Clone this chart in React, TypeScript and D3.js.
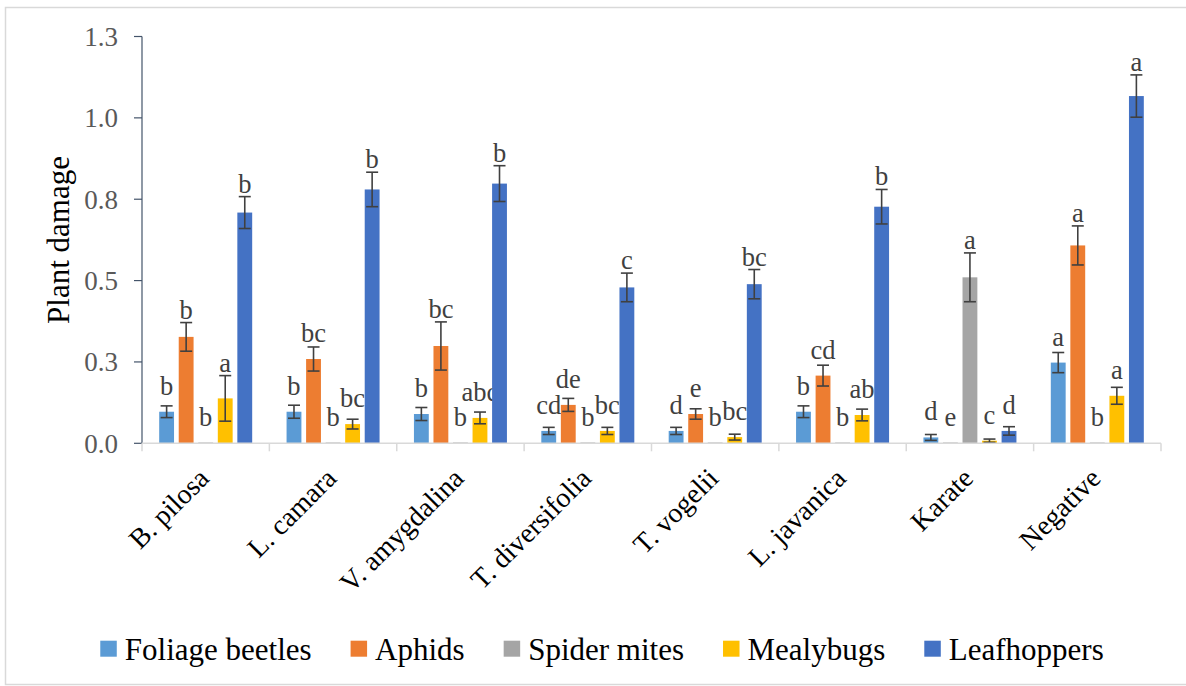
import * as d3 from 'd3';
import * as React from 'react';
import { Component } from 'react';

// categories and series
const categories = ['B. pilosa', 'L. camara', 'V. amygdalina', 'T. diversifolia', 'T. vogelii', 'L. javanica', 'Karate', 'Negative'];
const seriesNames = ['Foliage beetles', 'Aphids', 'Spider mites', 'Mealybugs', 'Leafhoppers'];
const seriesColors = ['#5b9bd5', '#ed7d31', '#a5a5a5', '#ffc000', '#4472c4'];

// mean plant damage
const foliageBeetles = [0.097, 0.097, 0.090, 0.038, 0.038, 0.097, 0.018, 0.248];
const aphids = [0.327, 0.259, 0.299, 0.118, 0.090, 0.208, 0, 0.608];
const spiderMites = [0, 0, 0, 0, 0, 0, 0.510, 0];
const mealybugs = [0.138, 0.059, 0.078, 0.038, 0.019, 0.087, 0.008, 0.146];
const leafhoppers = [0.709, 0.780, 0.798, 0.479, 0.489, 0.727, 0.038, 1.067];

// standard errors
const foliageErr = [0.018, 0.020, 0.020, 0.011, 0.011, 0.018, 0.009, 0.031];
const aphidsErr = [0.044, 0.037, 0.074, 0.020, 0.016, 0.032, 0, 0.060];
const spiderErr = [0, 0, 0, 0, 0, 0, 0.075, 0];
const mealyErr = [0.070, 0.015, 0.018, 0.011, 0.009, 0.018, 0.005, 0.026];
const leafErr = [0.049, 0.053, 0.055, 0.044, 0.045, 0.053, 0.013, 0.065];

// significance letters
const foliageLetters = ['b', 'b', 'b', 'cd', 'd', 'b', 'd', 'a'];
const aphidsLetters = ['b', 'bc', 'bc', 'de', 'e', 'cd', 'e', 'a'];
const spiderLetters = ['b', 'b', 'b', 'b', 'b', 'b', 'a', 'b'];
const mealyLetters = ['a', 'bc', 'abc', 'bc', 'bc', 'ab', 'c', 'a'];
const leafLetters = ['b', 'b', 'b', 'c', 'bc', 'b', 'd', 'a'];

const yTicks = [0, 0.25, 0.5, 0.75, 1.0, 1.25];
const yTickLabels = ['0.0', '0.3', '0.5', '0.8', '1.0', '1.3'];

const seriesValues = [foliageBeetles, aphids, spiderMites, mealybugs, leafhoppers];
const seriesErrors = [foliageErr, aphidsErr, spiderErr, mealyErr, leafErr];
const seriesLetters = [foliageLetters, aphidsLetters, spiderLetters, mealyLetters, leafLetters];

const FONT = 'Liberation Serif, DejaVu Serif, serif';

class App extends Component {
  private chartElement: any;

  componentDidMount() {
    this.renderChart();
  }

  renderChart() {
    const width = 1186, height = 686;
    const left = 142, right = 1161, top = 36.5, bottom = 443.3;

    d3.select(this.chartElement).selectAll('*').remove();

    const svg = d3.select(this.chartElement)
      .append('svg')
      .attr('width', width)
      .attr('height', height)
      .style('display', 'block');

    const addText = (sel: any) => sel.append('text').attr('font-family', FONT);

    svg.append('rect')
      .attr('x', 5.5).attr('y', 7.5)
      .attr('width', width + 10).attr('height', 677)
      .attr('fill', 'white')
      .attr('stroke', '#d9d9d9')
      .attr('stroke-width', 1.5);

    const y = d3.scaleLinear().domain([0, 1.25]).range([bottom, top]);
    const x0 = d3.scaleBand().domain(categories).range([left, right]).padding(0);
    const groupWidth = 93;
    const x1 = d3.scaleBand().domain(seriesNames)
      .range([0, groupWidth]).paddingInner(0.24).paddingOuter(0);

    // y axis
    svg.append('line')
      .attr('x1', left).attr('x2', left)
      .attr('y1', top).attr('y2', bottom)
      .attr('stroke', '#44546a').attr('stroke-width', 1.2);

    yTicks.forEach((t, i) => {
      svg.append('line')
        .attr('x1', left - 8).attr('x2', left)
        .attr('y1', y(t)).attr('y2', y(t))
        .attr('stroke', '#44546a').attr('stroke-width', 1.2);
      addText(svg)
        .attr('x', 118).attr('y', y(t))
        .attr('dy', '0.35em')
        .attr('text-anchor', 'end')
        .attr('font-size', 27)
        .attr('fill', '#595959')
        .text(yTickLabels[i]);
    });

    addText(svg)
      .attr('transform', 'translate(58,240) rotate(-90)')
      .attr('text-anchor', 'middle')
      .attr('dy', '0.35em')
      .attr('font-size', 31)
      .attr('fill', 'black')
      .text('Plant damage');

    // bars
    categories.forEach((cat, ci) => {
      const gx = (x0(cat) as number) + (x0.bandwidth() - groupWidth) / 2;
      seriesNames.forEach((name, si) => {
        const v = seriesValues[si][ci];
        const e = seriesErrors[si][ci];
        const bx = gx + (x1(name) as number);
        const bw = x1.bandwidth();
        const cx = bx + bw / 2;

        svg.append('rect')
          .attr('x', bx).attr('y', y(v) - (v === 0 ? 1 : 0))
          .attr('width', bw).attr('height', Math.max(1, y(0) - y(v)))
          .attr('fill', v === 0 ? '#bfbfbf' : seriesColors[si]);

        if (e > 0) {
          const g = svg.append('g').attr('stroke', '#404040').attr('stroke-width', 1.6);
          g.append('line').attr('x1', cx).attr('x2', cx).attr('y1', y(v + e)).attr('y2', y(Math.max(0, v - e)));
          g.append('line').attr('x1', cx - 6).attr('x2', cx + 6).attr('y1', y(v + e)).attr('y2', y(v + e));
          g.append('line').attr('x1', cx - 6).attr('x2', cx + 6).attr('y1', y(Math.max(0, v - e))).attr('y2', y(Math.max(0, v - e)));
        }

        const baseY = Math.min(y(v) - 17, y(v + e) - 4);
        addText(svg)
          .attr('x', cx).attr('y', baseY)
          .attr('text-anchor', 'middle')
          .attr('font-size', 26.5)
          .attr('fill', '#404040')
          .text(seriesLetters[si][ci]);
      });
    });

    // x axis
    svg.append('line')
      .attr('x1', left).attr('x2', right)
      .attr('y1', bottom).attr('y2', bottom)
      .attr('stroke', '#d9d9d9').attr('stroke-width', 1.5);

    categories.forEach((cat) => {
      svg.append('line')
        .attr('x1', x0(cat) as number).attr('x2', x0(cat) as number)
        .attr('y1', bottom).attr('y2', bottom + 8)
        .attr('stroke', '#d9d9d9').attr('stroke-width', 1.5);
    });
    svg.append('line')
      .attr('x1', right).attr('x2', right)
      .attr('y1', bottom).attr('y2', bottom + 8)
      .attr('stroke', '#d9d9d9').attr('stroke-width', 1.5);

    categories.forEach((cat) => {
      const cx = (x0(cat) as number) + x0.bandwidth() / 2;
      addText(svg)
        .attr('transform', 'translate(' + (cx - 2) + ',' + 473 + ') rotate(-45)')
        .attr('text-anchor', 'end')
        .attr('dy', '0.35em')
        .attr('font-size', 28)
        .attr('fill', 'black')
        .text(cat);
    });

    // legend
    const legend = svg.append('g');
    let cursor = 0;
    seriesNames.forEach((name, si) => {
      const item = legend.append('g');
      item.append('rect')
        .attr('x', 0).attr('y', 640.7)
        .attr('width', 16.5).attr('height', 16)
        .attr('fill', seriesColors[si]);
      const t = addText(item)
        .attr('x', 24.5).attr('y', 660)
        .attr('font-size', 31)
        .attr('fill', 'black')
        .text(name);
      const w = 24.5 + (t.node() as any).getComputedTextLength();
      item.attr('transform', 'translate(' + cursor + ',0)');
      cursor += w + 39;
    });
    const total = cursor - 39;
    legend.attr('transform', 'translate(' + (602 - total / 2) + ',0)');
  }

  render() {
    return (
      <div style={{ position: 'absolute', left: 0, top: 0 }}>
        <div ref={el => { this.chartElement = el; }}></div>
      </div>
    );
  }
}

export default App;
